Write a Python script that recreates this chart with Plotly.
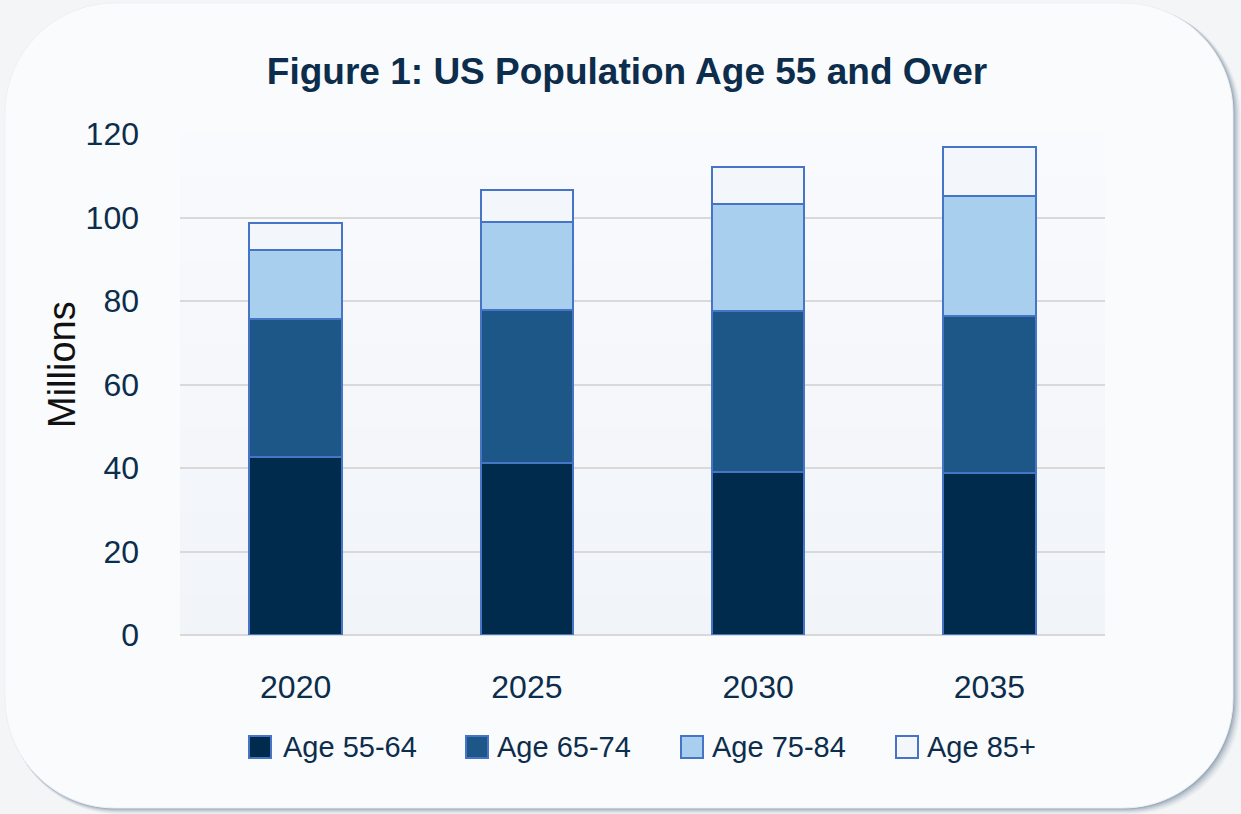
import plotly.graph_objects as go

# ---------------- data ----------------
years = ["2020", "2025", "2030", "2035"]
age_55_64 = [42.6, 41.1, 39.0, 38.9]
age_65_74 = [33.1, 36.7, 38.6, 37.5]
age_75_84 = [16.4, 21.1, 25.6, 28.7]
age_85_plus = [6.6, 7.6, 9.0, 11.9]
series_names = ["Age 55-64", "Age 65-74", "Age 75-84", "Age 85+"]
y_ticks = [0, 20, 40, 60, 80, 100, 120]

# ---------------- styles ----------------
W, H = 1241, 814
ML, MR, MT, MB = 180, 136, 134, 179
PW, PH = W - ML - MR, H - MT - MB
colors = ["#012b4c", "#1d5787", "#a9cfee", "#f3f6fb"]
outline = "#4674c6"
text_col = "#0c2d4c"
FONT = "Liberation Sans, Arial, sans-serif"


def px(x):
    return (x - ML) / PW


def py(y):
    return (H - MB - y) / PH


def rounded_rect(x0, y0, x1, y1, r):
    k = 0.5523 * r
    pts = [
        ("M", [(x0 + r, y0)]),
        ("L", [(x1 - r, y0)]),
        ("C", [(x1 - r + k, y0), (x1, y0 + r - k), (x1, y0 + r)]),
        ("L", [(x1, y1 - r)]),
        ("C", [(x1, y1 - r + k), (x1 - r + k, y1), (x1 - r, y1)]),
        ("L", [(x0 + r, y1)]),
        ("C", [(x0 + r - k, y1), (x0, y1 - r + k), (x0, y1 - r)]),
        ("L", [(x0, y0 + r)]),
        ("C", [(x0, y0 + r - k), (x0 + r - k, y0), (x0 + r, y0)]),
    ]
    s = ""
    for cmd, ps in pts:
        s += cmd + " ".join(f"{px(a):.5f},{py(b):.5f}" for a, b in ps)
    return s + "Z"


fig = go.Figure()
series = [age_55_64, age_65_74, age_75_84, age_85_plus]
for name, vals, c in zip(series_names, series, colors):
    fig.add_trace(go.Bar(
        x=years, y=vals, name=name,
        marker=dict(color=c, line=dict(color=outline, width=2)),
        width=0.4, showlegend=False,
    ))

shapes = []
# card shadow
for d, op in [(11, 0.06), (9, 0.09), (7, 0.13), (5, 0.18), (3, 0.24), (1.5, 0.28)]:
    shapes.append(dict(type="path", xref="paper", yref="paper", layer="below",
                       path=rounded_rect(5 + d * 0.3, 3 + d * 0.3, 1233 + d * 0.7, 808 + d * 0.55, 110),
                       fillcolor="#6a8098", opacity=op, line=dict(width=0)))
# card
shapes.append(dict(type="path", xref="paper", yref="paper", layer="below",
                   path=rounded_rect(5, 3, 1233, 808, 110),
                   fillcolor="#fafbfd", line=dict(color="#eef0f4", width=1)))
# plot area gentle gradient
nb = 12
c_top = (249, 250, 253)
c_bot = (241, 244, 249)
for i in range(nb):
    t = i / (nb - 1)
    col = tuple(round(c_top[j] + (c_bot[j] - c_top[j]) * t) for j in range(3))
    shapes.append(dict(type="rect", xref="paper", yref="paper", layer="below",
                       x0=0, x1=1, y0=1 - (i + 1) / nb, y1=1 - i / nb,
                       fillcolor="rgb(%d,%d,%d)" % col, line=dict(width=0)))

# manual legend
leg_sq_x = [249, 466, 681, 896]
leg_tx_x = [283, 497, 712, 927]
leg_y = 747
annotations = []
for name, c, sx, tx in zip(series_names, colors, leg_sq_x, leg_tx_x):
    shapes.append(dict(type="rect", xref="paper", yref="paper",
                       x0=px(sx), x1=px(sx + 22), y0=py(leg_y + 11), y1=py(leg_y - 11),
                       fillcolor=c, line=dict(color=outline, width=2)))
    annotations.append(dict(text=name, xref="paper", yref="paper", x=px(tx - 2), y=py(leg_y),
                            xanchor="left", yanchor="middle", showarrow=False,
                            font=dict(family=FONT, size=29, color=text_col)))

# y-axis title
annotations.append(dict(text="Millions", xref="paper", yref="paper", x=px(62), y=py(365),
                        xanchor="center", yanchor="middle", textangle=-90, showarrow=False,
                        font=dict(family=FONT, size=38, color="#111111")))

fig.update_layout(
    width=W, height=H,
    margin=dict(l=ML, r=MR, t=MT, b=MB, pad=0),
    paper_bgcolor="#f4f5f7",
    plot_bgcolor="rgba(0,0,0,0)",
    barmode="stack",
    font=dict(family=FONT, color=text_col),
    title=dict(text="<b>Figure 1: US Population Age 55 and Over</b>",
               x=627 / W, xanchor="center", y=1 - 71 / H, yanchor="middle",
               font=dict(family=FONT, size=37, color=text_col)),
    shapes=shapes,
    annotations=annotations,
    showlegend=False,
)
fig.update_xaxes(
    type="category", range=[-0.5, 3.5], showgrid=False, showline=False, zeroline=False,
    ticks="", tickfont=dict(family=FONT, size=32, color=text_col), ticklabelstandoff=30,
)
fig.update_yaxes(
    range=[0, 120], tickvals=y_ticks, showgrid=True, gridcolor="#d9d9d9", gridwidth=2,
    zeroline=True, zerolinecolor="#d9d9d9", zerolinewidth=2, showline=False,
    ticks="", tickfont=dict(family=FONT, size=32, color=text_col), ticklabelstandoff=40,
)

fig.write_html("out.html", config={"displayModeBar": False},
               post_script="document.body.style.margin='0';document.body.style.overflow='hidden';")
